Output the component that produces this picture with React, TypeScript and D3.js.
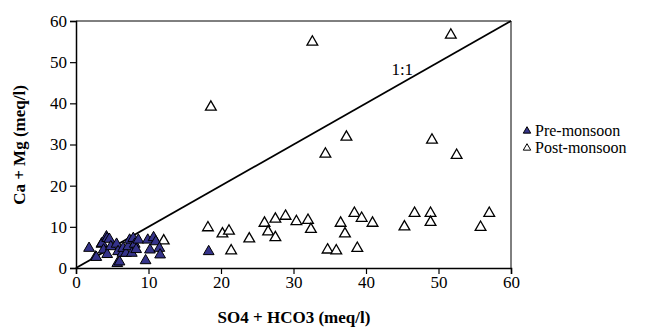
import { useEffect, useRef } from "react";
import * as d3 from "d3";

// Pre-monsoon (SO4 + HCO3, Ca + Mg)
const preX = [1.8, 2.7, 2.8, 3.5, 3.6, 3.8, 4.2, 4.3, 4.3, 4.6, 4.8, 5.6, 5.7, 5.8, 6.0, 6.4, 6.5, 6.9, 7.2, 7.4, 7.7, 7.9, 8.1, 8.3, 8.6, 9.6, 9.9, 10.2, 10.7, 11.0, 11.5, 11.6, 18.3];
const preY = [4.8, 2.7, 2.6, 5.8, 6.0, 4.4, 7.6, 7.2, 3.3, 7.0, 5.2, 5.8, 1.1, 4.0, 1.5, 3.6, 4.8, 3.6, 5.2, 6.8, 3.6, 7.2, 5.8, 4.5, 6.8, 1.8, 6.8, 4.4, 7.4, 6.4, 4.8, 3.2, 4.0];

// Post-monsoon
const postX = [12.1, 18.2, 18.6, 20.2, 21.1, 21.4, 23.9, 26.0, 26.5, 27.5, 27.5, 28.9, 30.4, 32.0, 32.4, 32.6, 34.4, 34.7, 35.9, 36.5, 37.1, 37.3, 38.4, 38.8, 39.4, 40.9, 45.3, 46.7, 48.9, 48.9, 49.1, 51.7, 52.5, 55.8, 57.0];
const postY = [6.6, 9.8, 39.1, 8.3, 9.0, 4.2, 7.1, 10.9, 8.8, 11.9, 7.4, 12.6, 11.3, 11.6, 9.4, 54.9, 27.7, 4.4, 4.2, 10.9, 8.3, 31.8, 13.3, 4.8, 12.1, 10.9, 10.0, 13.3, 13.3, 11.1, 31.1, 56.6, 27.4, 9.9, 13.3];

const xTicks = [0, 10, 20, 30, 40, 50, 60];
const yTicks = [0, 10, 20, 30, 40, 50, 60];
const legendLabels = ["Pre-monsoon", "Post-monsoon"];

const W = 661;
const H = 328;
const font = "Liberation Serif, Times New Roman, Times, serif";

export default function App() {
  const ref = useRef<SVGSVGElement>(null);

  useEffect(() => {
    const svg = d3.select(ref.current);
    svg.selectAll("*").remove();

    const x = d3.scaleLinear().domain([0, 60]).range([76, 511]);
    const y = d3.scaleLinear().domain([0, 60]).range([268, 21]);

    // frame top/right
    svg.append("line").attr("x1", 76).attr("x2", 511).attr("y1", 21).attr("y2", 21).attr("stroke", "#000").attr("stroke-width", 1);
    svg.append("line").attr("x1", 511).attr("x2", 511).attr("y1", 21).attr("y2", 268).attr("stroke", "#000").attr("stroke-width", 1);

    const xAxis = svg.append("g").attr("transform", "translate(0,268)")
      .call(d3.axisBottom(x).tickValues(xTicks).tickSize(6).tickPadding(2));
    const yAxis = svg.append("g").attr("transform", "translate(76,0)")
      .call(d3.axisLeft(y).tickValues(yTicks).tickSize(6).tickPadding(3));
    [xAxis, yAxis].forEach((g) => {
      g.attr("font-family", null).attr("font-size", null);
      g.select(".domain").attr("stroke-width", 1.5);
      g.selectAll("line").attr("stroke-width", 1.2);
      g.selectAll("text").style("font-family", font).style("font-size", "17px").attr("fill", "#000");
    });

    // 1:1 line
    svg.append("line")
      .attr("x1", x(0)).attr("y1", y(0)).attr("x2", x(60)).attr("y2", y(60))
      .attr("stroke", "#000").attr("stroke-width", 1.8);
    svg.append("text").attr("x", x(45)).attr("y", y(46.9)).style("font-family", font)
      .style("font-size", "17px").attr("text-anchor", "middle").text("1:1");

    const tri = d3.symbol().type(d3.symbolTriangle).size(50);

    svg.append("g").selectAll("path").data(postX).join("path")
      .attr("d", tri)
      .attr("transform", (d, i) => `translate(${x(d)},${y(postY[i])})`)
      .attr("fill", "#fff").attr("stroke", "#000").attr("stroke-width", 1.3);

    svg.append("g").selectAll("path").data(preX).join("path")
      .attr("d", tri)
      .attr("transform", (d, i) => `translate(${x(d)},${y(preY[i])})`)
      .attr("fill", "#35338a").attr("stroke", "#000").attr("stroke-width", 1);

    // legend
    const leg = svg.append("g").attr("transform", "translate(527,131)");
    const legTri = d3.symbol().type(d3.symbolTriangle).size(24);
    legendLabels.forEach((lab, i) => {
      leg.append("path").attr("d", legTri).attr("transform", `translate(0,${i * 17})`)
        .attr("fill", i === 0 ? "#35338a" : "#fff").attr("stroke", "#000").attr("stroke-width", 1);
      leg.append("text").attr("x", 8).attr("y", i * 17 + 5).style("font-family", font)
        .style("font-size", "16px").text(lab);
    });

    // axis titles
    svg.append("text").attr("x", 294).attr("y", 323).attr("text-anchor", "middle")
      .style("font-family", font).style("font-weight", "bold").style("font-size", "17px")
      .text("SO4 + HCO3 (meq/l)");
    svg.append("text").attr("transform", "translate(25,145) rotate(-90)").attr("text-anchor", "middle")
      .style("font-family", font).style("font-weight", "bold").style("font-size", "17px")
      .text("Ca + Mg (meq/l)");
  }, []);

  return (
    <svg ref={ref} width={W} height={H} style={{ position: "absolute", left: 0, top: 0, background: "#fff" }}></svg>
  );
}
